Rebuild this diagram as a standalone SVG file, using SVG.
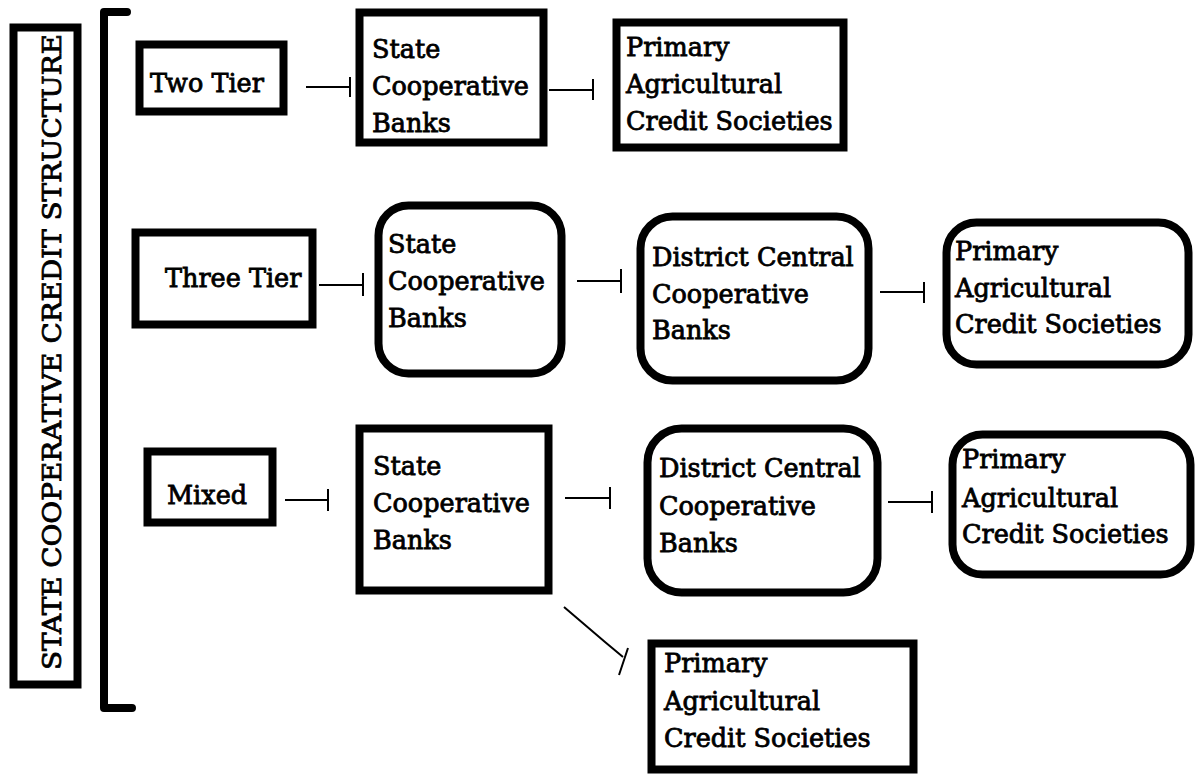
<svg xmlns="http://www.w3.org/2000/svg" width="1196" height="776" viewBox="0 0 1196 776">
<style>
.box{fill:#fff;stroke:#000;stroke-width:8}
.t{font-size:25.5px;fill:#000;stroke:#000;stroke-width:0.8}
.c{stroke:#000;stroke-width:2;fill:none}
</style>
<rect width="1196" height="776" fill="#fff"/>
<g id="title">
<rect class="box" x="13.5" y="27.5" width="64" height="657" stroke-width="9"/>
<text class="t" font-family="DejaVu Serif" transform="translate(61,352) rotate(-90)" text-anchor="middle" font-size="31" stroke-width="1.1" textLength="636" lengthAdjust="spacingAndGlyphs" fill="#10121c">STATE COOPERATIVE CREDIT STRUCTURE</text>
</g>
<g id="bracket">
<path d="M127,12 H104 V708 H132" fill="none" stroke="#000" stroke-width="8" stroke-linecap="round" stroke-linejoin="round"/>
</g>
<g id="two-tier"><rect class="box" x="139.5" y="44.5" width="144" height="67"/><text class="t" font-family="DejaVu Serif" x="150" y="92">Two Tier</text></g>
<g id="scb1"><rect class="box" x="359.5" y="12.5" width="184" height="130"/><text class="t" font-family="DejaVu Serif"><tspan x="372" y="58">State</tspan><tspan x="372" y="95">Cooperative</tspan><tspan x="372" y="132">Banks</tspan></text></g>
<g id="pacs1"><rect class="box" x="616.5" y="22.5" width="227" height="125"/><text class="t" font-family="DejaVu Serif"><tspan x="626" y="56">Primary</tspan><tspan x="626" y="93">Agricultural</tspan><tspan x="626" y="130">Credit Societies</tspan></text></g>
<g id="three-tier"><rect class="box" x="135.5" y="232.5" width="177" height="92"/><text class="t" font-family="DejaVu Serif" x="165" y="287">Three Tier</text></g>
<g id="scb2"><rect class="box" x="378.5" y="205.5" width="183" height="168" rx="30"/><text class="t" font-family="DejaVu Serif"><tspan x="388" y="253">State</tspan><tspan x="388" y="290">Cooperative</tspan><tspan x="388" y="327">Banks</tspan></text></g>
<g id="dccb2"><rect class="box" x="640.5" y="216.5" width="228" height="164" rx="32"/><text class="t" font-family="DejaVu Serif"><tspan x="652" y="266">District Central</tspan><tspan x="652" y="303">Cooperative</tspan><tspan x="652" y="339">Banks</tspan></text></g>
<g id="pacs2"><rect class="box" x="946.5" y="222.5" width="242" height="142" rx="30"/><text class="t" font-family="DejaVu Serif"><tspan x="955" y="260">Primary</tspan><tspan x="955" y="297">Agricultural</tspan><tspan x="955" y="333">Credit Societies</tspan></text></g>
<g id="mixed"><rect class="box" x="147.5" y="451.5" width="125" height="71"/><text class="t" font-family="DejaVu Serif" x="167" y="504">Mixed</text></g>
<g id="scb3"><rect class="box" x="359.5" y="428.5" width="189" height="162"/><text class="t" font-family="DejaVu Serif"><tspan x="373" y="475">State</tspan><tspan x="373" y="512">Cooperative</tspan><tspan x="373" y="549">Banks</tspan></text></g>
<g id="dccb3"><rect class="box" x="647.5" y="428.5" width="230" height="164" rx="34"/><text class="t" font-family="DejaVu Serif"><tspan x="659" y="477">District Central</tspan><tspan x="659" y="515">Cooperative</tspan><tspan x="659" y="552">Banks</tspan></text></g>
<g id="pacs3"><rect class="box" x="952.5" y="434.5" width="238" height="140" rx="30"/><text class="t" font-family="DejaVu Serif"><tspan x="962" y="468">Primary</tspan><tspan x="962" y="507">Agricultural</tspan><tspan x="962" y="543">Credit Societies</tspan></text></g>
<g id="pacs4"><rect class="box" x="651.5" y="643.5" width="262" height="126"/><text class="t" font-family="DejaVu Serif"><tspan x="664" y="672">Primary</tspan><tspan x="664" y="710">Agricultural</tspan><tspan x="664" y="747">Credit Societies</tspan></text></g>
<g id="connectors" class="c">
<path d="M306,87 H350 M350,77 V97"/>
<path d="M549,90 H593 M593,79 V100"/>
<path d="M319,285 H363 M363,273 V296"/>
<path d="M577,281 H621 M621,269 V293"/>
<path d="M880,292 H924 M924,282 V303"/>
<path d="M285,500 H328 M328,489 V511"/>
<path d="M565,498 H610 M610,487 V509"/>
<path d="M888,502 H932 M932,491 V513"/>
<path d="M564,607 L605,642 L623,657 M619,675 L628,648"/>
</g>
</svg>
